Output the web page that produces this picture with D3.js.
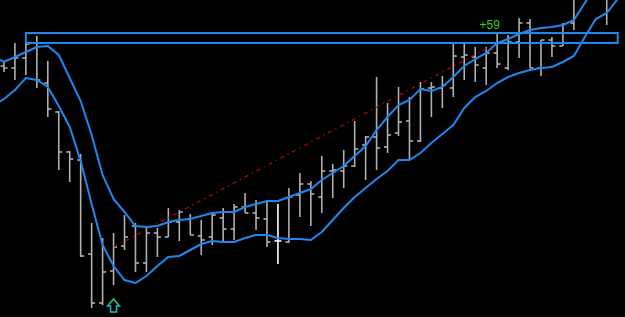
<!DOCTYPE html>
<html>
<head>
<meta charset="utf-8">
<script src="https://cdn.jsdelivr.net/npm/d3@7"></script>
<style>
  html, body { margin: 0; padding: 0; background: #000; }
  svg { display: block; }
</style>
</head>
<body>
<svg id="chart" width="625" height="317"></svg>
<script>
// Barres OHLC (la première est hors écran à gauche, la dernière au-dessus du cadre)
const opens  = [258, 251, 249, 259, 274, 234, 205, 165, 157, 63, 14, 46, 71, 91, 54, 84, 80, 95, 98, 81, 80,
                99, 88, 110, 104, 98, 76, 75, 122, 133, 120, 146, 146, 151, 172, 180, 170, 184, 196, 176, 229,
                229, 229, 260, 260, 249, 264, 249, 275, 294, 249, 277, 271, 294, 322, 350, 345, 360];
const highs  = [262, 255, 274, 273, 281, 256, 206, 166, 163, 94, 79, 84, 102, 94, 89, 89, 109, 107, 103, 97, 104,
                109, 113, 124, 117, 117, 113, 129, 144, 136, 161, 153, 167, 196, 181, 240, 214, 230, 220, 235, 235,
                241, 273, 273, 270, 270, 285, 282, 299, 298, 277, 280, 294, 327, 355, 372, 375, 385];
const lows   = [250, 245, 237, 242, 229, 200, 147, 135, 60, 9, 12, 32, 67, 45, 45, 60, 80, 76, 82, 62, 72,
                74, 77, 104, 87, 70, 53, 74, 100, 91, 104, 119, 129, 150, 137, 147, 164, 181, 157, 175, 200,
                209, 220, 237, 235, 232, 249, 247, 259, 249, 241, 260, 271, 287, 320, 325, 292, 322];
const closes = [252, 249, 259, 273, 237, 208, 165, 158, 61, 14, 45, 70, 80, 54, 84, 80, 95, 105, 82, 77, 102,
                88, 110, 104, 99, 75, 76, 120, 133, 123, 146, 147, 151, 168, 180, 169, 182, 195, 176, 228, 230,
                232, 261, 262, 252, 264, 253, 275, 294, 249, 277, 271, 293, 322, 350, 365, 330, 378];

// Enveloppe haute et basse
const upperBand = [261, 255, 260, 265, 270, 271, 262, 239, 216, 182, 142, 118, 105, 91, 90, 91, 95, 97, 98, 101, 104,
                   105, 105, 110, 113, 116, 116, 120, 124, 128, 137, 144, 151, 161, 171, 187, 200, 212, 217, 228, 226,
                   230, 240, 251, 258, 264, 274, 278, 283, 287, 289, 290, 292, 297, 314, 332, 352, 367];
const lowerBand = [211, 218, 227, 239, 237, 230, 211, 190, 156, 113, 72, 51, 37, 34, 41, 51, 60, 61, 67, 73, 76,
                   75, 75, 79, 82, 82, 79, 78, 78, 77, 85, 97, 109, 120, 129, 138, 146, 157, 157, 164, 174,
                   183, 192, 209, 220, 226, 234, 240, 244, 247, 249, 250, 255, 261, 280, 298, 304, 318];

// Objets dessinés sur le graphique
const brightBars = [26];
const zone = { from: 3, to: 57, low: 274, high: 284 };
const trend = { from: 11, priceFrom: 70, to: 46, priceTo: 274 };
const arrowUp = { index: 11, price: 18 };
const note = { text: '+59', index: 44.4, price: 288 };

const width = 625;
const height = 317;

const svg = d3.select('#chart');

svg.append('rect')
  .attr('width', width)
  .attr('height', height)
  .attr('fill', '#000');

// Échelles
const x = d3.scaleLinear()
  .domain([0, opens.length - 1])
  .range([-7, 617.7]);

const y = d3.scaleLinear()
  .domain([0, 317])
  .range([height, 0]);

const g = svg.append('g');

// Barres
const tick = 3.5;
const bars = g.selectAll('.bar')
  .data(d3.range(opens.length))
  .enter()
  .append('g')
  .attr('class', 'bar')
  .attr('stroke', i => brightBars.includes(i) ? '#ffffff' : '#b0b0b0')
  .attr('stroke-width', 1.6);

bars.append('line')
  .attr('x1', i => x(i)).attr('x2', i => x(i))
  .attr('y1', i => y(highs[i])).attr('y2', i => y(lows[i]));

bars.append('line')
  .attr('x1', i => x(i) - tick).attr('x2', i => x(i))
  .attr('y1', i => y(opens[i])).attr('y2', i => y(opens[i]));

bars.append('line')
  .attr('x1', i => x(i)).attr('x2', i => x(i) + tick)
  .attr('y1', i => y(closes[i])).attr('y2', i => y(closes[i]));

// Ligne de tendance rouge
g.append('line')
  .attr('x1', x(trend.from)).attr('y1', y(trend.priceFrom))
  .attr('x2', x(trend.to)).attr('y2', y(trend.priceTo))
  .attr('stroke', '#c80000')
  .attr('stroke-width', 1.2)
  .attr('stroke-dasharray', '4,4,1.5,4');

// Enveloppes
const band = d3.line()
  .x((d, i) => x(i))
  .y(d => y(d));

[upperBand, lowerBand].forEach(values => {
  g.append('path')
    .datum(values)
    .attr('d', band)
    .attr('fill', 'none')
    .attr('stroke', '#1e88f0')
    .attr('stroke-width', 2);
});

// Zone rectangle
g.append('rect')
  .attr('x', x(zone.from))
  .attr('y', y(zone.high))
  .attr('width', x(zone.to) - x(zone.from))
  .attr('height', y(zone.low) - y(zone.high))
  .attr('fill', 'none')
  .attr('stroke', '#1e88f0')
  .attr('stroke-width', 2);

// Texte
g.append('text')
  .attr('x', x(note.index))
  .attr('y', y(note.price))
  .attr('fill', '#28d028')
  .style('font-family', '"Liberation Sans", Arial, sans-serif')
  .style('font-size', '12px')
  .text(note.text);

// Flèche
const ax = x(arrowUp.index);
const ay = y(arrowUp.price);
g.append('path')
  .attr('d', `M${ax},${ay} L${ax + 6},${ay + 7} L${ax + 3},${ay + 7} L${ax + 3},${ay + 13} L${ax - 3},${ay + 13} L${ax - 3},${ay + 7} L${ax - 6},${ay + 7} Z`)
  .attr('fill', 'none')
  .attr('stroke', '#1fbfae')
  .attr('stroke-width', 1.5);
</script>
</body>
</html>
